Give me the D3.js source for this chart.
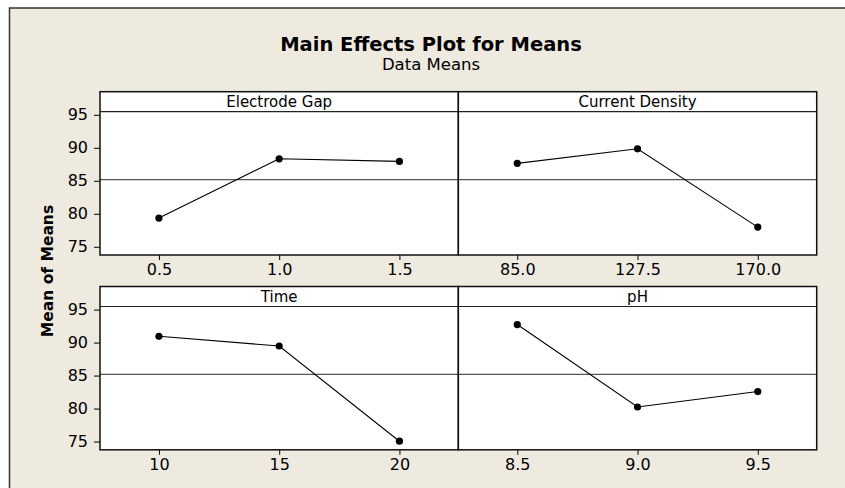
<!DOCTYPE html>
<html>
<head>
<meta charset="utf-8">
<script src="https://cdn.jsdelivr.net/npm/d3@7"></script>
<style>
  html, body { margin: 0; padding: 0; background: #fff; }
  svg { display: block; font-family: "DejaVu Sans", Verdana, sans-serif; }
</style>
</head>
<body>
<div id="chart"></div>
<script>
// factor names + levels + means
const factors = ["Electrode Gap", "Current Density", "Time", "pH"];
const electrodeGapLevels = ["0.5", "1.0", "1.5"];
const electrodeGapMeans = [79.35, 88.33, 87.94];
const currentDensityLevels = ["85.0", "127.5", "170.0"];
const currentDensityMeans = [87.64, 89.85, 77.98];
const timeLevels = ["10", "15", "20"];
const timeMeans = [90.95, 89.48, 75.05];
const phLevels = ["8.5", "9.0", "9.5"];
const phMeans = [92.73, 80.24, 82.58];
const yTicks = [75, 80, 85, 90, 95];

const levels = [electrodeGapLevels, currentDensityLevels, timeLevels, phLevels];
const means = [electrodeGapMeans, currentDensityMeans, timeMeans, phMeans];
const grandMean = d3.mean(means.flat());

const width = 845,
    height = 488,
    left = 100, right = 816.7,
    panelW = (right - left) / 2,
    stripH = 20,
    plotH = 143.3,
    rowTop = [91.7, 286.5];

const svg = d3.select("#chart").append("svg")
    .attr("width", width)
    .attr("height", height);

// outer graph window
svg.append("rect")
    .attr("x", 9.5).attr("y", 8)
    .attr("width", width).attr("height", height)
    .attr("fill", "#eeeae0")
    .attr("stroke", "#333")
    .attr("stroke-width", 1.5);

svg.append("text")
    .attr("x", 431).attr("y", 50.5)
    .attr("text-anchor", "middle")
    .style("font-weight", "bold")
    .style("font-size", "19.5px")
    .attr("fill", "#000")
    .text("Main Effects Plot for Means");

svg.append("text")
    .attr("x", 431).attr("y", 70)
    .attr("text-anchor", "middle")
    .style("font-size", "16.5px")
    .attr("fill", "#000")
    .text("Data Means");

svg.append("text")
    .attr("transform", "translate(53,271) rotate(-90)")
    .attr("text-anchor", "middle")
    .style("font-weight", "bold")
    .style("font-size", "15.5px")
    .attr("fill", "#000")
    .text("Mean of Means");

const y = d3.scaleLinear().domain([73.75, 95.47]).range([plotH, 0]);

factors.forEach((name, i) => {
  const col = i % 2, row = Math.floor(i / 2);
  const px = left + col * panelW,
      py = rowTop[row];
  const g = svg.append("g").attr("transform", `translate(${px},${py})`);
  const plot = g.append("g").attr("transform", `translate(0,${stripH})`);

  const x = d3.scalePoint().domain(levels[i]).range([0, panelW]).padding(0.49);

  // strip
  g.append("rect")
      .attr("width", panelW).attr("height", stripH)
      .attr("fill", "#fff");
  g.append("text")
      .attr("x", panelW / 2).attr("y", 15)
      .attr("text-anchor", "middle")
      .style("font-size", "15px")
      .attr("fill", "#000")
      .text(name);

  plot.append("rect")
      .attr("width", panelW).attr("height", plotH)
      .attr("fill", "#fff");

  // reference line at the grand mean
  plot.append("line")
      .attr("x1", 0).attr("x2", panelW)
      .attr("y1", y(grandMean)).attr("y2", y(grandMean))
      .attr("stroke", "#555")
      .attr("stroke-width", 1.2);

  const pts = levels[i].map((lv, j) => ({ lv: lv, v: means[i][j] }));

  plot.append("path")
      .datum(pts)
      .attr("fill", "none")
      .attr("stroke", "#000")
      .attr("stroke-width", 1.1)
      .attr("d", d3.line().x(d => x(d.lv)).y(d => y(d.v)));

  plot.selectAll(".pt")
      .data(pts)
      .enter().append("circle")
      .attr("class", "pt")
      .attr("cx", d => x(d.lv))
      .attr("cy", d => y(d.v))
      .attr("r", 3.6)
      .attr("fill", "#000");

  // x axis
  const xa = plot.append("g")
      .attr("transform", `translate(0,${plotH})`)
      .call(d3.axisBottom(x).tickSize(5).tickPadding(4));
  xa.select(".domain").remove();
  xa.selectAll("line").attr("stroke", "#000");
  xa.selectAll("text").style("font-size", "16px").style("font-family", "DejaVu Sans").attr("fill", "#000");

  if (col === 0) {
    const ya = plot.append("g")
        .call(d3.axisLeft(y).tickValues(yTicks).tickSize(6).tickPadding(6));
    ya.select(".domain").remove();
    ya.selectAll("line").attr("stroke", "#000");
    ya.selectAll("text").style("font-size", "16px").style("font-family", "DejaVu Sans").attr("fill", "#000");
  }

  // frames
  g.append("line")
      .attr("x1", 0).attr("x2", panelW)
      .attr("y1", stripH).attr("y2", stripH)
      .attr("stroke", "#222").attr("stroke-width", 1.2);
  g.append("rect")
      .attr("width", panelW).attr("height", stripH + plotH)
      .attr("fill", "none")
      .attr("stroke", "#111")
      .attr("stroke-width", 1.5);
});
</script>
</body>
</html>
